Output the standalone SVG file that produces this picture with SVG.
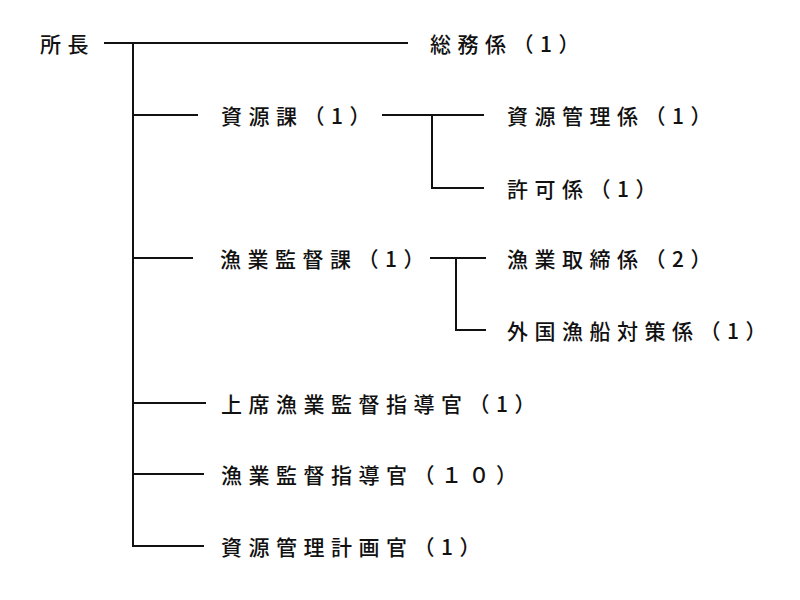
<svg xmlns="http://www.w3.org/2000/svg" width="800" height="600" viewBox="0 0 800 600">
<style>
text{font-family:"Noto Sans CJK JP","Noto Sans CJK SC",sans-serif;font-size:21px;font-weight:500;letter-spacing:6.5px;fill:#111;dominant-baseline:central}
.c line{stroke:#111;stroke-width:2;fill:none}
</style>
<rect width="800" height="600" fill="#fff"/>
<g class="c" id="connectors">
<line x1="104" y1="43" x2="408" y2="43"/>
<line x1="133" y1="43" x2="133" y2="546"/>
<line x1="133" y1="115" x2="198" y2="115"/>
<line x1="382" y1="115" x2="484" y2="115"/>
<line x1="432" y1="115" x2="432" y2="188"/>
<line x1="431" y1="188" x2="484" y2="188"/>
<line x1="133" y1="258" x2="193" y2="258"/>
<line x1="430" y1="258" x2="486" y2="258"/>
<line x1="456" y1="258" x2="456" y2="330"/>
<line x1="455" y1="330" x2="486" y2="330"/>
<line x1="133" y1="403" x2="206" y2="403"/>
<line x1="133" y1="474" x2="204" y2="474"/>
<line x1="132" y1="546" x2="204" y2="546"/>
</g>
<g id="n0"><text x="40" y="43">所長</text></g>
<g id="n1"><text x="430" y="43">総務係（1）</text></g>
<g id="n2"><text x="221" y="115">資源課（1）</text></g>
<g id="n3"><text x="507" y="115">資源管理係（1）</text></g>
<g id="n4"><text x="507" y="188">許可係（1）</text></g>
<g id="n5"><text x="220" y="258">漁業監督課（1）</text></g>
<g id="n6"><text x="507" y="258">漁業取締係（2）</text></g>
<g id="n7"><text x="507" y="330">外国漁船対策係（1）</text></g>
<g id="n8"><text x="221" y="403">上席漁業監督指導官（1）</text></g>
<g id="n9"><text x="221" y="474">漁業監督指導官（１０）</text></g>
<g id="n10"><text x="221" y="546">資源管理計画官（1）</text></g>
</svg>
